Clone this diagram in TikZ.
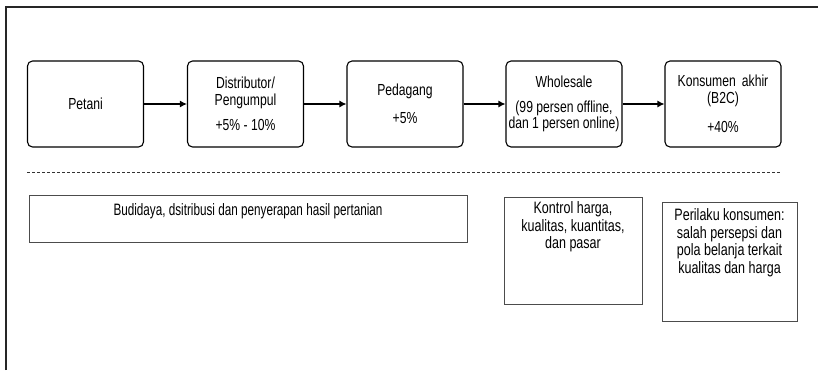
\documentclass[tikz,border=0pt]{standalone}
\usepackage{fontspec}
\setmainfont{Liberation Sans}[FakeStretch=0.76]
\usepackage{tikz}
\usetikzlibrary{arrows}
\usetikzlibrary{arrows.meta}
\usetikzlibrary{positioning}
\tikzset{>=latex}
\tikzstyle{stage} = [rectangle, rounded corners=5pt, draw=black, line width=1.1pt, minimum width=116pt, minimum height=86pt, inner sep=2pt, align=center, font=\fontsize{16}{16.5}\selectfont]
\tikzstyle{issue} = [rectangle, draw=black!70, line width=0.8pt]
\tikzstyle{issuetext} = [draw=none, align=center, inner sep=0pt, font=\fontsize{16.5}{17.5}\selectfont]
\tikzstyle{flow} = [-{Latex[length=7pt, width=7pt]}, line width=1.2pt, draw=black]

\begin{document}
\begin{tikzpicture}[x=1pt, y=-1pt]
\useasboundingbox (0,0) rectangle (818,370);
% frame, only top and left edges show
\draw [line width=1.6pt, draw=black!85] (6,370) -- (6,7) -- (818,7);

% supply chain
\node [stage] (P) at (85.5,104) {Petani};
\node [stage] (D) at (245.5,104) {Distributor/\\Pengumpul\\[9pt]+5\% - 10\%};
\node [stage] (G) at (405,104) {Pedagang\\[12pt]+5\%};
\node [stage] (W) at (564,104) {Wholesale\\[8pt](99 persen offline,\\dan 1 persen online)};
\node [stage] (K) at (723,104) {Konsumen\, akhir\\(B2C)\\[13pt]+40\%};
\draw [flow] (P) to (D);
\draw [flow] (D) to (G);
\draw [flow] (G) to (W);
\draw [flow] (W) to (K);

\coordinate (sepL) at (27,172);
\coordinate (sepR) at (781,172);
\draw [dashed, dash pattern=on 3pt off 2pt, draw=black!80, line width=0.7pt] (sepL) to (sepR);

% problems per stage
\node [issue, minimum width=438pt, minimum height=47pt] (B) at (248,218.5) {};
\node [issuetext, below=9pt of B.north, font={\fontsize{16.5}{17.5}\selectfont\addfontfeatures{FakeStretch=0.71}}] (Btxt) {Budidaya, dsitribusi dan penyerapan hasil pertanian};
\node [issue, minimum width=138pt, minimum height=107pt] (C) at (573,250.5) {};
\node [issuetext, below=5pt of C.north] (Ctxt) {Kontrol harga,\\kualitas, kuantitas,\\dan pasar};
\node [issue, minimum width=135pt, minimum height=119pt] (R) at (729.5,261.5) {};
\node [issuetext, below=7pt of R.north] (Rtxt) {Perilaku konsumen:\\salah persepsi dan\\pola belanja terkait\\kualitas dan harga};
\end{tikzpicture}
\end{document}
